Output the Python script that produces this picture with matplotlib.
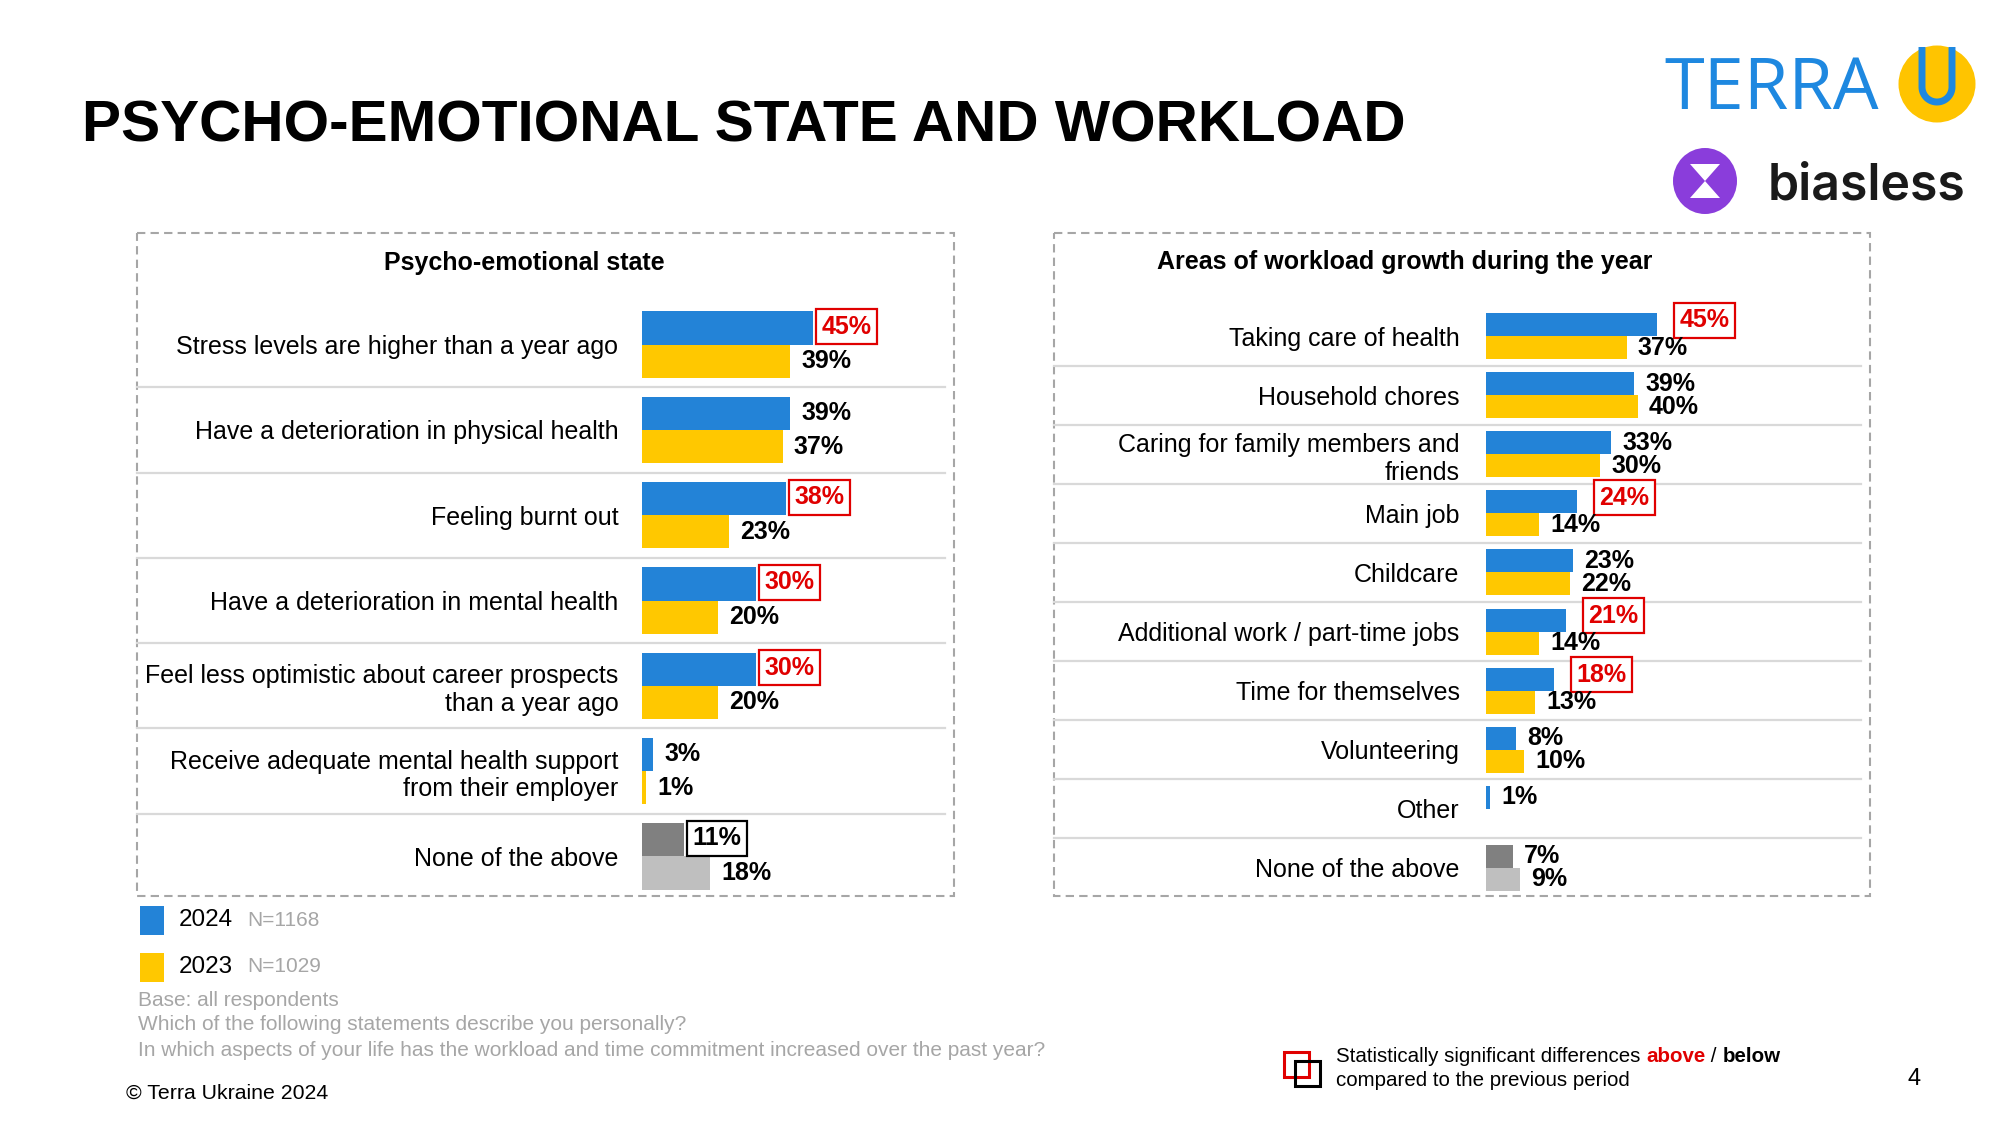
import matplotlib
matplotlib.use("Agg")
import matplotlib.pyplot as plt
import numpy as np
from matplotlib.patches import Rectangle, Ellipse, Polygon
from matplotlib.transforms import blended_transform_factory

plt.rcParams['font.family'] = ['Liberation Sans', 'DejaVu Sans']

BLUE = '#2383D7'
YELLOW = '#FFC800'
DGRAY = '#808080'
LGRAY = '#BFBFBF'
RED = '#E00000'
SEP = '#D9D9D9'
FOOT = '#A6A6A6'

# data
left_title = "Psycho-emotional state"
left_labels = ["Stress levels are higher than a year ago",
               "Have a deterioration in physical health",
               "Feeling burnt out",
               "Have a deterioration in mental health",
               "Feel less optimistic about career prospects\nthan a year ago",
               "Receive adequate mental health support\nfrom their employer",
               "None of the above"]
left_2024 = [45, 39, 38, 30, 30, 3, 11]
left_2023 = [39, 37, 23, 20, 20, 1, 18]
left_sig = [1, 0, 1, 1, 1, 0, -1]   # 1 = significantly above, -1 = below

right_title = "Areas of workload growth during the year"
right_labels = ["Taking care of health",
                "Household chores",
                "Caring for family members and\nfriends",
                "Main job",
                "Childcare",
                "Additional work / part-time jobs",
                "Time for themselves",
                "Volunteering",
                "Other",
                "None of the above"]
right_2024 = [45, 39, 33, 24, 23, 21, 18, 8, 1, 7]
right_2023 = [37, 40, 30, 14, 22, 14, 13, 10, None, 9]
right_sig = [1, 0, 0, 1, 0, 1, 1, 0, 0, 0]

legend_years = ["2024", "2023"]
legend_n = ["N=1168", "N=1029"]

W, H = 2000, 1125
PX_PER_PCT = 3.8

fig = plt.figure(figsize=(20, 11.25), dpi=100)
bg = fig.add_axes([0, 0, 1, 1])
bg.set_xlim(0, W)
bg.set_ylim(H, 0)
bg.axis('off')


def panel(box, bar_x0, top, bottom, labels, v24, v23, sig, box_off, box_dy, pad, title, title_xy):
    bx0, by0, bx1, by1 = box
    bg.add_patch(Rectangle((bx0, by0), bx1 - bx0, by1 - by0, fill=False,
                           ec=FOOT, lw=1.5, ls=(0, (4, 2.5))))
    bg.text(title_xy[0], title_xy[1], title, ha='center', va='center',
            fontsize=18, fontweight='bold')

    n = len(labels)
    ax = fig.add_axes([bar_x0 / W, (H - bottom) / H, (bx1 - bar_x0) / W, (bottom - top) / H])
    ax.set_facecolor('none')
    ax.set_xlim(0, (bx1 - bar_x0) / PX_PER_PCT)
    ax.set_ylim(n - 0.5, -0.5)
    for s in ax.spines.values():
        s.set_visible(False)
    ax.set_xticks([])

    y = np.arange(n)
    h = 0.39
    c24 = [BLUE] * (n - 1) + [DGRAY]
    c23 = [YELLOW] * (n - 1) + [LGRAY]
    v23p = [0 if v is None else v for v in v23]
    ax.barh(y - h / 2, v24, height=h, color=c24)
    ax.barh(y + h / 2, v23p, height=h, color=c23)

    ax.set_yticks(y, labels=labels, fontsize=18)
    ax.tick_params(axis='y', length=0, pad=pad)

    tr = blended_transform_factory(fig.transFigure, ax.transData)
    for i in range(n - 1):
        ax.plot([bx0 / W, (bx1 - 9) / W], [i + 0.5] * 2, transform=tr,
                color=SEP, lw=1.6, clip_on=False)

    for i in range(n):
        if sig[i]:
            col = RED if sig[i] > 0 else 'black'
            ax.annotate(f"{v24[i]}%", xy=(v24[i], i - h / 2), xytext=(box_off, box_dy),
                        textcoords='offset points', ha='left', va='center',
                        fontsize=18, fontweight='bold', color=col,
                        bbox=dict(boxstyle='square,pad=0.22', fc='white', ec=col, lw=1.6))
        else:
            ax.annotate(f"{v24[i]}%", xy=(v24[i], i - h / 2), xytext=(8, 0),
                        textcoords='offset points', ha='left', va='center',
                        fontsize=18, fontweight='bold')
        if v23[i] is not None:
            ax.annotate(f"{v23[i]}%", xy=(v23[i], i + h / 2), xytext=(8, 0),
                        textcoords='offset points', ha='left', va='center',
                        fontsize=18, fontweight='bold')
    return ax


panel((137, 233, 954, 896), 642, 302, 899, left_labels, left_2024, left_2023, left_sig,
      6, 1, 17, left_title, (524, 263))
panel((1054, 233, 1870, 896), 1486, 306.5, 897.5, right_labels, right_2024, right_2023,
      right_sig, 16, 3, 19, right_title, (1405, 262))

# main title
bg.text(82, 126, "PSYCHO-EMOTIONAL STATE AND WORKLOAD", fontsize=42.1,
        fontweight='bold', ha='left', va='center')

# legend
for (yc, col, yr, nn) in zip([920, 967], [BLUE, YELLOW], legend_years, legend_n):
    bg.add_patch(Rectangle((140, yc - 14), 24, 29, color=col, lw=0))
    bg.text(179, yc, yr, fontsize=17.5, va='center', ha='left')
    bg.text(247, yc, nn, fontsize=15, va='center', ha='left', color=FOOT)

# footnotes
foot = ["Base: all respondents",
        "Which of the following statements describe you personally?",
        "In which aspects of your life has the workload and time commitment increased over the past year?"]
for k, s in enumerate(foot):
    bg.text(138, 1000 + k * 25, s, fontsize=15, color=FOOT, va='center', ha='left')
bg.text(126, 1093, "\u00a9 Terra Ukraine 2024", fontsize=15.3, va='center', ha='left')

# significance legend
bg.add_patch(Rectangle((1284, 1052), 25, 25, fill=False, ec=RED, lw=2.2))
bg.add_patch(Rectangle((1295, 1061), 25, 25, fill=False, ec='black', lw=2.2))
r = fig.canvas.get_renderer()
x = 1336
for s, c, w in [("Statistically significant differences ", 'black', 'normal'),
                ("above", RED, 'bold'), (" / ", 'black', 'normal'),
                ("below", 'black', 'bold')]:
    t = bg.text(x, 1057, s, color=c, fontweight=w, fontsize=14.8, va='center', ha='left')
    x += t.get_window_extent(renderer=r).width
bg.text(1336, 1081, "compared to the previous period", fontsize=14.8, va='center', ha='left')
bg.text(1914, 1079, "4", fontsize=17, va='center', ha='center')

# logos
bg.text(1664, 109, "TERRA", fontsize=52, family='Open Sans', color='#1E88E0',
        ha='left', va='baseline')
bg.add_patch(Ellipse((1937, 84), 77, 77, color='#FFC400', lw=0))
th = np.linspace(np.pi, 0, 40)
ux = np.concatenate([[1922], 1937 + 15 * np.cos(th), [1952]])
uy = np.concatenate([[47], 87 + 15 * np.sin(th), [47]])
bg.plot(ux, uy, color='#1E88E0', lw=5, solid_capstyle='butt')

bg.add_patch(Ellipse((1705, 181), 64, 66, color='#8A3DDB', lw=0))
bg.add_patch(Polygon([(1690, 164), (1720, 164), (1705, 181)], color='white', lw=0))
bg.add_patch(Polygon([(1690, 198), (1720, 198), (1705, 181)], color='white', lw=0))
bg.text(1768, 199, "biasless", fontsize=36, family='Inter', fontweight='semibold',
        color='#1A1A1A', ha='left', va='baseline')

fig.savefig("out.png", dpi=100, facecolor='white')
